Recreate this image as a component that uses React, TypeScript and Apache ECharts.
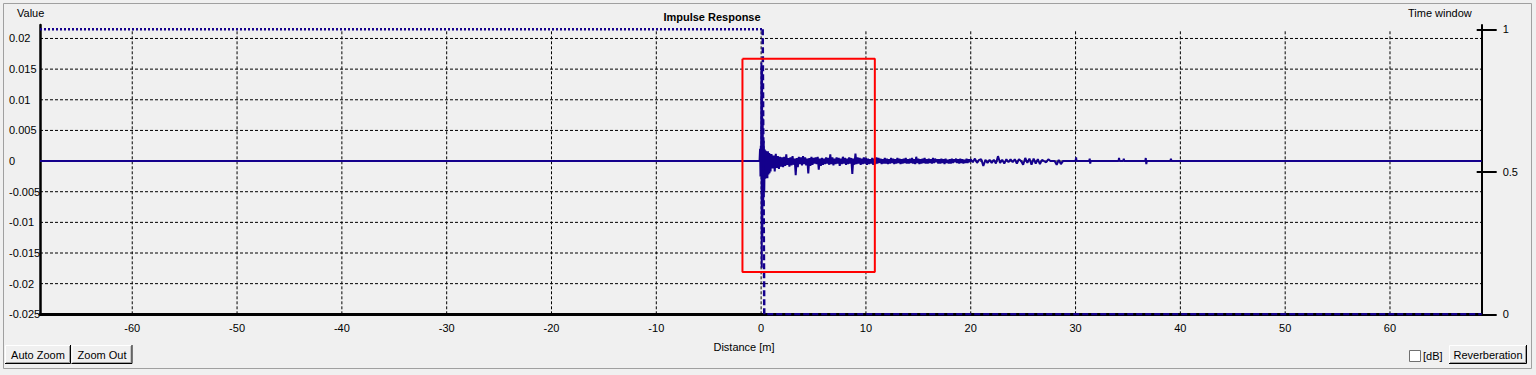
import React, { useEffect, useRef } from "react";
import * as echarts from "echarts";

// ---- axis ticks ----
const distanceTicks = [-60, -50, -40, -30, -20, -10, 0, 10, 20, 30, 40, 50, 60];
const valueTicks = [-0.025, -0.02, -0.015, -0.01, -0.005, 0, 0.005, 0.01, 0.015, 0.02];
const windowTicks = [0, 0.5, 1];

const X_MIN = -68.8;
const X_MAX = 68.75;
const Y_MIN = -0.025;
const Y_MAX = 0.0222;
const W_MIN = 0;
const W_MAX = 1.0151;

// ---- impulse response: direct sound region ----
const headDist = [
  -68.8, -0.15, -0.1, -0.06, -0.03, 0.0, 0.03, 0.06, 0.09, 0.12, 0.15, 0.2, 0.25, 0.3,
  0.35, 0.4, 0.45, 0.5, 0.55, 0.6, 0.65, 0.7, 0.75, 0.8, 0.85, 0.9, 0.95,
];
const headValue = [
  0, 0, 0.002, -0.0025, 0.0025, -0.0018, 0.0161, -0.0174, 0.015, -0.0125, 0.007, -0.007, 0.0033,
  -0.005, 0.0019, -0.0029, 0.0017, -0.0027, 0.0015, -0.0028, 0.0016, -0.0022, 0.0013, -0.002,
  0.0012, -0.0017, 0.001,
];

// ---- early reflections, 1.0 m .. 11.9 m, one value every 0.1 m ----
const earlyStart = 1.0;
const earlyStep = 0.1;
const earlyValue = [
  0.0011, -0.0012, 0.0009, -0.0017, 0.0012, -0.0011, 0.0008, -0.0013, 0.0007, -0.0009,
  0.0006, -0.001, 0.0007, -0.0008, 0.0011, -0.0006, 0.0005, -0.0009, 0.0006, -0.0007,
  0.0008, -0.0006, 0.0004, -0.0023, 0.0005, -0.001, 0.0007, -0.0005, 0.0006, -0.0007,
  0.0008, -0.0005, 0.0006, -0.0007, 0.0004, -0.002, 0.0005, -0.0008, 0.0007, -0.0006,
  0.0005, -0.0004, 0.0006, -0.0005, 0.0007, -0.0014, 0.0004, -0.0008, 0.0005, -0.0006,
  0.0004, -0.0005, 0.0006, -0.0004, 0.0005, -0.0006, 0.0011, -0.0005, 0.0006, -0.0007,
  0.0004, -0.0005, 0.0006, -0.0004, 0.0005, -0.0008, 0.0004, -0.0005, 0.0007, -0.0004,
  0.0005, -0.0006, 0.0004, -0.0005, 0.0006, -0.0004, 0.0005, -0.0021, 0.0004, -0.0006,
  0.0012, -0.0005, 0.0006, -0.0004, 0.0005, -0.0006, 0.0004, -0.0005, 0.0006, -0.0004,
  0.0005, -0.0006, 0.0004, -0.0005, 0.0003, -0.0004, 0.0005, -0.0006, 0.0004, -0.0005,
  0.0006, -0.0004, 0.0005, -0.0003, 0.0004, -0.0005, 0.0003, -0.0004, 0.0005, -0.0004,
];

// ---- mid tail, 12.0 m .. 19.9 m, one value every 0.1 m ----
const midStart = 12.0;
const midStep = 0.1;
const midValue = [
  0.0004, -0.0005, 0.0003, -0.0004, 0.0005, -0.0003, 0.0004, -0.0005, 0.0003, -0.0004,
  0.0005, -0.0003, 0.0004, -0.0005, 0.0003, -0.0004, 0.0004, -0.0003, 0.0005, -0.0004,
  0.0003, -0.0004, 0.0004, -0.0003, 0.0005, -0.0004, 0.0003, -0.0005, 0.0007, -0.0003,
  0.0004, -0.0005, 0.0003, -0.0004, 0.0004, -0.0003, 0.0005, -0.0004, 0.0003, -0.0004,
  0.0004, -0.0003, 0.0003, -0.0004, 0.0005, -0.0003, 0.0004, -0.0002, 0.0003, -0.0004,
  0.0003, -0.0004, 0.0004, -0.0003, 0.0003, -0.0005, 0.0004, -0.0003, 0.0002, -0.0004,
  0.0003, -0.0004, 0.0004, -0.0003, 0.0003, -0.0002, 0.0004, -0.0003, 0.0003, -0.0004,
  0.0004, -0.0003, 0.0003, -0.0004, 0.0002, -0.0003, 0.0004, -0.0003, 0.0003, -0.0002,
];

// ---- late tail, 20 m .. 29.8 m, one value every 0.2 m ----
const lateStart = 20.0;
const lateStep = 0.2;
const lateValue = [
  0.0003, -0.0002, 0.0004, -0.0003, 0.0002, 0.0003, -0.0008, 0.0002, -0.0003, 0.0002,
  -0.0003, 0.0002, -0.0004, 0.0008, -0.0003, 0.0002, -0.0004, 0.0003, -0.0002, 0.0003,
  -0.0002, 0.0003, -0.0004, 0.0003, 0, -0.0006, 0.0005, -0.0003, 0.0004, -0.0006,
  0.0004, -0.0004, 0.0003, -0.0005, 0.0002, 0, -0.0002, 0.0003, 0, 0,
  0, -0.0006, 0.0002, -0.0005, 0, 0, 0, 0, 0, 0,
];

// ---- sparse reflections beyond 30 m ----
const tailDist = [
  30.0, 30.05, 30.1, 31.3, 31.35, 31.4, 31.45, 34.1, 34.15, 34.2, 34.55, 34.6, 34.65, 36.65,
  36.7, 36.75, 36.8, 39.05, 39.1, 39.15, 68.75,
];
const tailValue = [
  0, 0.0006, 0, 0, 0.0004, -0.0004, 0, 0, 0.0005, 0, 0, 0.0004, 0, 0, 0.0005, -0.0005, 0, 0,
  0.0004, 0, 0,
];

// ---- time window (right axis) ----
const windowTopDist = [-68.8, 0.15];
const windowTopValue = [1, 1];
const windowFallDist = [0.15, 0.3, 68.75];
const windowFallValue = [1, 0, 0];

// ---- red zoom box ----
const boxDist = [-1.78, 10.85];
const boxValue = [-0.0181, 0.0167];

const NAVY = "#14008c";
const FONT = "Liberation Sans, Arial, sans-serif";

function buildImpulse(): number[][] {
  const pts: number[][] = [];
  headDist.forEach((d, i) => pts.push([d, headValue[i]]));
  earlyValue.forEach((v, i) => pts.push([+(earlyStart + i * earlyStep).toFixed(2), v]));
  midValue.forEach((v, i) => pts.push([+(midStart + i * midStep).toFixed(2), v]));
  lateValue.forEach((v, i) => pts.push([+(lateStart + i * lateStep).toFixed(2), v]));
  tailDist.forEach((d, i) => pts.push([d, tailValue[i]]));
  return pts;
}

function button(x: number, y: number, w: number, h: number, label: string) {
  return {
    type: "group",
    children: [
      { type: "rect", shape: { x, y, width: w, height: h }, style: { fill: "#f0f0f0" } },
      {
        type: "polyline",
        shape: { points: [[x + 0.5, y + h - 1], [x + 0.5, y + 0.5], [x + w - 1, y + 0.5]] },
        style: { stroke: "#ffffff", lineWidth: 1, fill: null },
      },
      {
        type: "polyline",
        shape: { points: [[x + 1, y + h - 1.5], [x + w - 1.5, y + h - 1.5], [x + w - 1.5, y + 1]] },
        style: { stroke: "#a0a0a0", lineWidth: 1, fill: null },
      },
      {
        type: "polyline",
        shape: { points: [[x, y + h - 0.5], [x + w - 0.5, y + h - 0.5], [x + w - 0.5, y]] },
        style: { stroke: "#000000", lineWidth: 1, fill: null },
      },
      {
        type: "text",
        x: x + w / 2,
        y: y + h / 2,
        style: {
          text: label,
          fill: "#000",
          font: `11px ${FONT}`,
          align: "center",
          verticalAlign: "middle",
        },
      },
    ],
  };
}

export default function App() {
  const ref = useRef<HTMLDivElement>(null);

  useEffect(() => {
    if (!ref.current) return;
    const chart = echarts.init(ref.current, undefined, { renderer: "svg" });

    const gridSeries: any[] = [];
    distanceTicks.forEach((t) => {
      gridSeries.push({
        type: "line",
        xAxisIndex: 0,
        yAxisIndex: 1,
        data: [[t, W_MIN], [t, 1]],
        symbol: "none",
        silent: true,
        z: 1,
        lineStyle: { color: "#000", width: 1, type: [3, 2] },
      });
    });
    valueTicks.forEach((t) => {
      gridSeries.push({
        type: "line",
        xAxisIndex: 0,
        yAxisIndex: 0,
        data: [[X_MIN, t], [X_MAX, t]],
        symbol: "none",
        silent: true,
        z: 1,
        lineStyle: { color: "#000", width: 1, type: [3, 2] },
      });
    });

    const option: any = {
      animation: false,
      backgroundColor: "#f0f0f0",
      textStyle: { fontFamily: FONT },
      grid: { left: 40, right: 54.3, top: 25, bottom: 60.7, containLabel: false },
      xAxis: {
        type: "value",
        min: X_MIN,
        max: X_MAX,
        axisLine: { show: true, onZero: false, lineStyle: { color: "#000", width: 3 } },
        axisTick: { show: false },
        splitLine: { show: false },
        axisLabel: {
          customValues: distanceTicks,
          color: "#000",
          fontSize: 11,
          fontFamily: FONT,
          margin: 8,
        },
      },
      yAxis: [
        {
          type: "value",
          position: "left",
          min: Y_MIN,
          max: Y_MAX,
          axisLine: { show: true, onZero: false, lineStyle: { color: "#000", width: 2.5 } },
          axisTick: { show: false },
          splitLine: { show: false },
          axisLabel: {
            customValues: valueTicks,
            color: "#000",
            fontSize: 11,
            fontFamily: FONT,
            align: "left",
            margin: 31,
          },
        },
        {
          type: "value",
          position: "right",
          min: W_MIN,
          max: W_MAX,
          axisLine: { show: true, onZero: false, lineStyle: { color: "#000", width: 2 } },
          axisTick: {
            show: true,
            customValues: windowTicks,
            length: 15,
            lineStyle: { color: "#000", width: 2 },
          },
          splitLine: { show: false },
          axisLabel: {
            customValues: windowTicks,
            color: "#000",
            fontSize: 11,
            fontFamily: FONT,
            margin: 21,
          },
        },
        {
          type: "value",
          position: "right",
          min: W_MIN,
          max: W_MAX,
          axisLine: { show: false, onZero: false },
          axisTick: {
            show: true,
            inside: true,
            customValues: windowTicks,
            length: 5,
            lineStyle: { color: "#000", width: 2 },
          },
          splitLine: { show: false },
          axisLabel: { show: false },
        },
      ],
      series: [
        ...gridSeries,
        {
          name: "Impulse",
          type: "line",
          xAxisIndex: 0,
          yAxisIndex: 0,
          data: buildImpulse(),
          symbol: "none",
          z: 3,
          lineStyle: { color: NAVY, width: 2 },
        },
        {
          name: "Time window top",
          type: "line",
          xAxisIndex: 0,
          yAxisIndex: 1,
          data: windowTopDist.map((d, i) => [d, windowTopValue[i]]),
          symbol: "none",
          z: 4,
          lineStyle: { color: NAVY, width: 2.5, type: [2, 2] },
        },
        {
          name: "Time window fall",
          type: "line",
          xAxisIndex: 0,
          yAxisIndex: 1,
          data: windowFallDist.map((d, i) => [d, windowFallValue[i]]),
          symbol: "none",
          z: 4,
          lineStyle: { color: NAVY, width: 2.5, type: [6, 3] },
        },
        {
          name: "Zoom box",
          type: "line",
          xAxisIndex: 0,
          yAxisIndex: 0,
          data: [
            [boxDist[0], boxValue[1]],
            [boxDist[1], boxValue[1]],
            [boxDist[1], boxValue[0]],
            [boxDist[0], boxValue[0]],
            [boxDist[0], boxValue[1]],
          ],
          symbol: "none",
          z: 5,
          lineStyle: { color: "#ff0000", width: 2 },
        },
      ],
      graphic: [
        {
          type: "rect",
          shape: { x: 3.5, y: 3.5, width: 1528, height: 365 },
          style: { fill: null, stroke: "#a0a0a0", lineWidth: 1 },
          silent: true,
        },
        {
          type: "text",
          x: 712,
          y: 16.5,
          style: {
            text: "Impulse Response",
            fill: "#000",
            font: `bold 11px ${FONT}`,
            align: "center",
            verticalAlign: "middle",
          },
        },
        {
          type: "text",
          x: 17,
          y: 12.5,
          style: { text: "Value", fill: "#000", font: `11px ${FONT}`, align: "left", verticalAlign: "middle" },
        },
        {
          type: "text",
          x: 1408,
          y: 12.5,
          style: { text: "Time window", fill: "#000", font: `11px ${FONT}`, align: "left", verticalAlign: "middle" },
        },
        {
          type: "text",
          x: 744,
          y: 347,
          style: { text: "Distance [m]", fill: "#000", font: `11px ${FONT}`, align: "center", verticalAlign: "middle" },
        },
        button(5, 345, 66, 19, "Auto Zoom"),
        button(71.5, 345, 61, 19, "Zoom Out"),
        button(1449, 345, 78, 19, "Reverberation"),
        {
          type: "rect",
          shape: { x: 1409.5, y: 350.5, width: 11, height: 11 },
          style: { fill: "#ffffff", stroke: "#707070", lineWidth: 1 },
        },
        {
          type: "text",
          x: 1423,
          y: 355.5,
          style: { text: "[dB]", fill: "#000", font: `11px ${FONT}`, align: "left", verticalAlign: "middle" },
        },
      ],
    };

    chart.setOption(option);
    return () => chart.dispose();
  }, []);

  return (
    <div
      ref={ref}
      style={{ position: "fixed", left: 0, top: 0, width: 1536, height: 375 }}
    />
  );
}
